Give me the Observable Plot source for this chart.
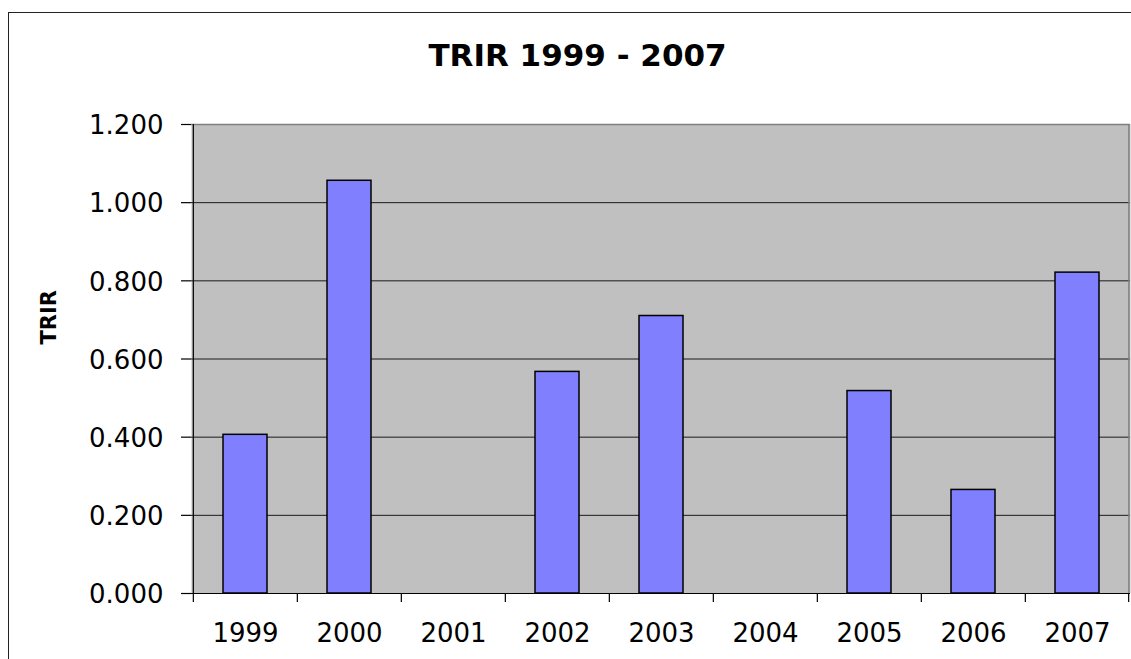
<!DOCTYPE html>
<html><head><meta charset="utf-8">
<script src="https://cdn.jsdelivr.net/npm/d3@7"></script>
<script src="https://cdn.jsdelivr.net/npm/@observablehq/plot@0.6"></script>
<style>html,body{margin:0;padding:0;background:#fff;overflow:hidden}#chart{position:relative;width:1131px;height:659px}#chart svg{display:block}#border{position:absolute;left:8px;top:12px;width:2000px;height:2000px;border-left:1.5px solid #222;border-top:1.5px solid #222;pointer-events:none}</style>
</head><body><div id="chart"><div id="border"></div></div>
<script>
const years = ["1999","2000","2001","2002","2003","2004","2005","2006","2007"];
const trir = [0.406, 1.056, null, 0.567, 0.710, null, 0.518, 0.265, 0.821];
const yTicks = [0, 0.2, 0.4, 0.6, 0.8, 1.0, 1.2];
const title = "TRIR 1999 - 2007";
const yLabel = "TRIR";

const data = years.map((year, i) => ({year, value: trir[i]})).filter(d => d.value != null);

const W = 1131, H = 659, mL = 191, mR = 1, mT = 124, mB = 66;
const plotW = W - mL - mR, plotH = H - mT - mB;
const step = plotW / years.length;
const fmt = d3.format(".3f");

const chart = Plot.plot({
  width: W, height: H,
  marginLeft: mL, marginRight: mR, marginTop: mT, marginBottom: mB,
  style: {fontFamily: "DejaVu Sans", background: "#fff", color: "#000"},
  x: {type: "band", domain: years, padding: 0, axis: null},
  y: {domain: [0, 1.2], axis: null},
  marks: [
    Plot.frame({fill: "#c0c0c0", stroke: null}),
    Plot.ruleY(yTicks.filter(t => t > 0 && t < 1.2), {stroke: "#1a1a1a", strokeWidth: 1}),
    Plot.ruleY([1.2], {stroke: "#808080", strokeWidth: 1.5}),
    Plot.ruleX([years[years.length - 1]], {dx: step / 2 - 0.75, stroke: "#808080", strokeWidth: 1.5}),
    Plot.barY(data, {x: "year", y: "value", fill: "#8080ff", stroke: "#000", strokeWidth: 1.5, insetLeft: 30, insetRight: 30}),
    // axis lines
    Plot.ruleY([0], {stroke: "#000", strokeWidth: 1.2}),
    Plot.ruleX([years[0]], {dx: -step / 2, stroke: "#000", strokeWidth: 1.2}),
    // y ticks
    Plot.ruleY(yTicks, {insetLeft: -10, insetRight: plotW, stroke: "#000", strokeWidth: 1.2}),
    // x boundary ticks
    Plot.ruleX(years, {dx: -step / 2, insetTop: plotH, insetBottom: -9, stroke: "#000", strokeWidth: 1.2}),
    Plot.ruleX([years[years.length - 1]], {dx: step / 2 - 1, insetTop: plotH, insetBottom: -9, stroke: "#000", strokeWidth: 1.2}),
    // y tick labels
    Plot.text(yTicks, {y: d => d, text: d => fmt(d), frameAnchor: "left", textAnchor: "end", lineAnchor: "middle", dx: -28, dy: 1.5, fontSize: 26, fill: "#000"}),
    // x labels
    Plot.text(years, {x: d => d, text: d => d, frameAnchor: "bottom", lineAnchor: "bottom", dy: 48.5, fontSize: 26, fill: "#000"}),
    // title
    Plot.text([title], {frameAnchor: "top", lineAnchor: "bottom", dx: -83.5, dy: -59, fontSize: 31, fontWeight: "bold", fill: "#000"}),
    // y label
    Plot.text([yLabel], {frameAnchor: "left", lineAnchor: "bottom", rotate: -90, dx: -136, dy: -14.5, fontSize: 21, fontWeight: "bold", fill: "#000"})
  ]
});

document.getElementById("chart").insertBefore(chart, document.getElementById("border"));
</script>
</body></html>
